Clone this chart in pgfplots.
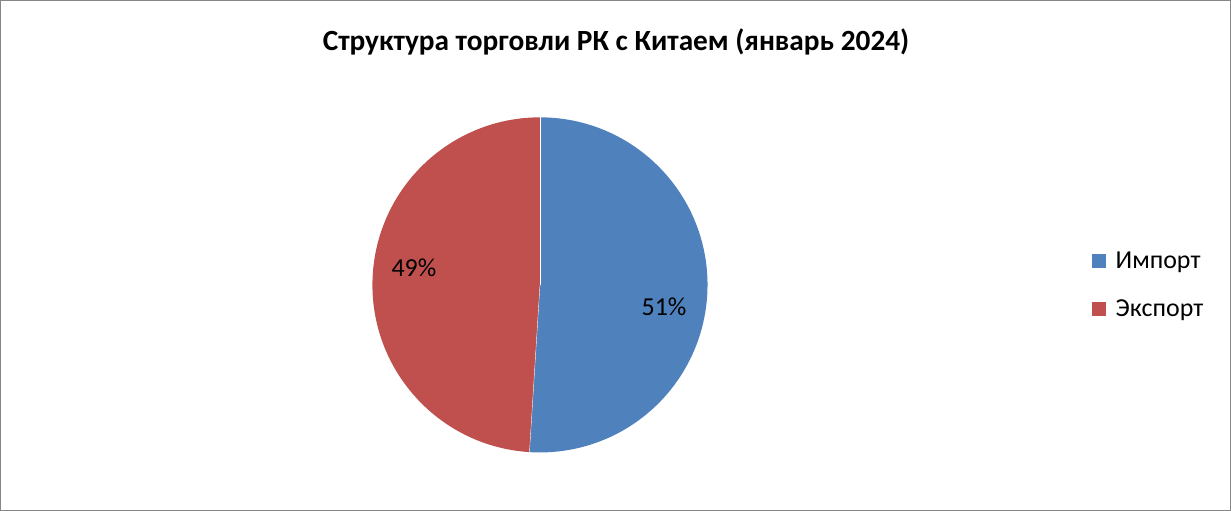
\documentclass[border=0pt]{standalone}
\usepackage{pgfplots}
\pgfplotsset{compat=1.18}
\usepackage{pgfplotstable}
\usepackage{fontspec}
\setmainfont{Carlito}

\definecolor{impblue}{HTML}{4F81BD}
\definecolor{expred}{HTML}{C0504D}
\definecolor{frame}{HTML}{868686}

% share in percent
\pgfplotstableread{
name share
Import 51
Export 49
}\tradetable

\begin{document}
\begin{tikzpicture}
\pgfplotstablegetelem{0}{share}\of\tradetable \let\impshare\pgfplotsretval
\pgfplotstablegetelem{1}{share}\of\tradetable \let\expshare\pgfplotsretval
\pgfmathsetmacro{\splitangle}{90-3.6*\impshare}
\begin{axis}[
    width=1231bp, height=511bp,
    scale only axis,
    xmin=0, xmax=1231,
    ymin=0, ymax=511,
    hide axis,
    clip=false,
]
% outer frame
\draw[frame, line width=1.2bp] (axis cs:0.8,0.8) rectangle (axis cs:1230.2,510.2);
% title
\node[font=\fontsize{29.4}{34}\selectfont\bfseries] at (axis cs:616,469) {Структура торговли РК с Китаем (январь 2024)};
% slices
\fill[impblue] (axis cs:540,226) -- (axis cs:540,393.5) arc[start angle=90, end angle=\splitangle, radius=167.5bp] -- cycle;
\fill[expred] (axis cs:540,226) -- ++(\splitangle:167.5bp) arc[start angle=\splitangle, end angle=-270, radius=167.5bp] -- cycle;
\draw[white, line width=0.3bp] (axis cs:540,226) -- (axis cs:540,393.5);
\draw[white, line width=0.3bp] (axis cs:540,226) -- ++(\splitangle:167.5bp);
% data labels
\node[font=\fontsize{26}{30}\selectfont] at (axis cs:664,204) {\impshare\%};
\node[font=\fontsize{26}{30}\selectfont] at (axis cs:414,243) {\expshare\%};
% legend
\fill[impblue] (axis cs:1092,242.5) rectangle (axis cs:1106,256.5);
\fill[expred] (axis cs:1092,194.5) rectangle (axis cs:1106,208.5);
\node[anchor=west, font=\fontsize{26}{30}\selectfont] at (axis cs:1112,249) {Импорт};
\node[anchor=west, font=\fontsize{26}{30}\selectfont] at (axis cs:1112,201) {Экспорт};
\end{axis}
\end{tikzpicture}
\end{document}
